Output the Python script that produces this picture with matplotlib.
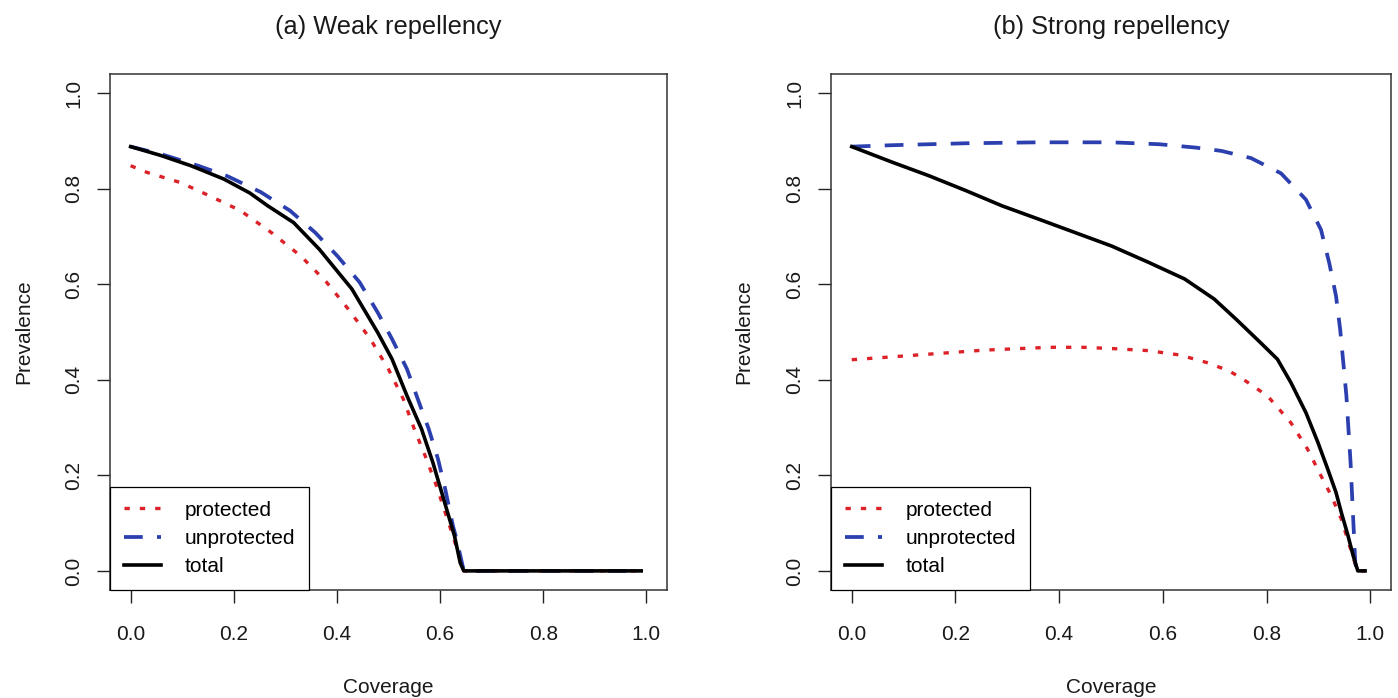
import matplotlib
matplotlib.use('Agg')

import numpy as np
from matplotlib import pyplot as plt

plt.rcParams['font.family'] = ['Liberation Sans', 'DejaVu Sans']

# (a) weak repellency
weak_prot_x = [0.0, 0.032, 0.096, 0.153, 0.213, 0.273, 0.330, 0.380, 0.422, 0.465, 0.500,
               0.529, 0.550, 0.571, 0.593, 0.610, 0.625, 0.635, 0.646, 0.99]
weak_prot_y = [0.848, 0.834, 0.813, 0.785, 0.754, 0.708, 0.659, 0.604, 0.548, 0.485, 0.422,
               0.359, 0.297, 0.241, 0.178, 0.122, 0.073, 0.038, 0.0, 0.0]
weak_unprot_x = [0.0, 0.060, 0.131, 0.188, 0.252, 0.309, 0.358, 0.401, 0.444, 0.479, 0.507,
                 0.536, 0.557, 0.578, 0.596, 0.610, 0.625, 0.632, 0.646, 0.99]
weak_unprot_y = [0.888, 0.872, 0.848, 0.826, 0.793, 0.754, 0.708, 0.659, 0.604, 0.541, 0.485,
                 0.422, 0.359, 0.297, 0.234, 0.171, 0.094, 0.066, 0.0, 0.0]
weak_total_x = [0.0, 0.057, 0.117, 0.181, 0.231, 0.266, 0.316, 0.366, 0.429, 0.479, 0.507,
                0.536, 0.564, 0.586, 0.607, 0.628, 0.639, 0.646, 0.99]
weak_total_y = [0.888, 0.870, 0.848, 0.820, 0.791, 0.764, 0.729, 0.673, 0.590, 0.499, 0.443,
                0.366, 0.297, 0.227, 0.150, 0.073, 0.017, 0.0, 0.0]

# (b) strong repellency
strong_prot_x = [0.0, 0.065, 0.128, 0.192, 0.255, 0.318, 0.382, 0.446, 0.508, 0.572, 0.632,
                 0.685, 0.727, 0.755, 0.802, 0.847, 0.879, 0.905, 0.925, 0.944, 0.960, 0.970,
                 0.976, 0.99]
strong_prot_y = [0.442, 0.447, 0.452, 0.457, 0.462, 0.465, 0.468, 0.468, 0.465, 0.461, 0.452,
                 0.436, 0.419, 0.401, 0.366, 0.310, 0.255, 0.199, 0.157, 0.109, 0.053, 0.018,
                 0.0, 0.0]
strong_unprot_x = [0.0, 0.079, 0.220, 0.361, 0.501, 0.593, 0.663, 0.713, 0.770, 0.828, 0.876,
                   0.905, 0.921, 0.934, 0.942, 0.948, 0.954, 0.958, 0.962, 0.965, 0.968, 0.971,
                   0.974, 0.99]
strong_unprot_y = [0.888, 0.891, 0.895, 0.897, 0.897, 0.893, 0.886, 0.879, 0.864, 0.832, 0.777,
                   0.714, 0.644, 0.575, 0.505, 0.436, 0.366, 0.296, 0.227, 0.157, 0.088, 0.018,
                   0.0, 0.0]
strong_total_x = [0.0, 0.079, 0.149, 0.220, 0.290, 0.361, 0.431, 0.501, 0.572, 0.642, 0.699,
                  0.741, 0.789, 0.821, 0.847, 0.876, 0.899, 0.918, 0.934, 0.944, 0.957, 0.967,
                  0.976, 0.99]
strong_total_y = [0.888, 0.855, 0.827, 0.796, 0.764, 0.736, 0.708, 0.680, 0.646, 0.611, 0.569,
                  0.527, 0.477, 0.443, 0.394, 0.331, 0.269, 0.213, 0.164, 0.123, 0.074, 0.032,
                  0.0, 0.0]

titles = ['(a) Weak repellency', '(b) Strong repellency']
labels = ['protected', 'unprotected', 'total']
ticks = [0.0, 0.2, 0.4, 0.6, 0.8, 1.0]
tick_labels = ['0.0', '0.2', '0.4', '0.6', '0.8', '1.0']

red = '#dc2228'
blue = '#2b3fae'
fs = 15

fig = plt.figure(figsize=(13.98, 6.98), dpi=100)
ax1 = fig.add_axes([110/1398, 108/698, 557/1398, 516/698])
ax2 = fig.add_axes([831/1398, 108/698, 560/1398, 516/698])

panels = [
    (ax1, weak_prot_x, weak_prot_y, weak_unprot_x, weak_unprot_y, weak_total_x, weak_total_y),
    (ax2, strong_prot_x, strong_prot_y, strong_unprot_x, strong_unprot_y, strong_total_x, strong_total_y),
]

for i, (ax, px, py, ux, uy, tx, ty) in enumerate(panels):
    ax.plot(px, py, color=red, lw=2.4, dashes=(1.6, 3.0), dash_capstyle='butt', label=labels[0])
    ax.plot(ux, uy, color=blue, lw=2.7, dashes=(5, 3.8), dash_capstyle='butt', label=labels[1])
    ax.plot(tx, ty, color='black', lw=2.6, label=labels[2])

    ax.set_xlim(-0.04, 1.04)
    ax.set_ylim(-0.04, 1.04)
    ax.set_xticks(ticks)
    ax.set_xticklabels(tick_labels)
    ax.set_yticks(ticks)
    ax.set_yticklabels(tick_labels)
    ax.tick_params(axis='both', direction='out', length=9.5, width=1.0, labelsize=fs,
                   color='#222222', labelcolor='#1a1a1a')
    ax.tick_params(axis='x', pad=16)
    ax.tick_params(axis='y', pad=10, labelrotation=90)
    for lab in ax.get_yticklabels():
        lab.set_va('center')
    for s in ax.spines.values():
        s.set_color('#333333')
        s.set_linewidth(1.1)

    # title offset (axes.titlepad, 6pt) is added on top of y
    ax.set_title(titles[i], fontsize=18.3, y=1 + 39/516, va='center', color='#1a1a1a')
    ax.set_xlabel('Coverage', fontsize=fs, color='#1a1a1a')
    ax.xaxis.set_label_coords(0.5, -0.188)
    ax.xaxis.label.set_va('center')
    ax.set_ylabel('Prevalence', fontsize=fs, color='#1a1a1a')
    ax.yaxis.set_label_coords(-0.155, 0.5)
    ax.yaxis.label.set_va('center')

    leg = ax.legend(loc='lower left', bbox_to_anchor=(0, 0), borderaxespad=0,
                    fontsize=fs, frameon=True, fancybox=False, framealpha=1,
                    edgecolor='black', handlelength=1.8, handletextpad=1.15,
                    borderpad=0.65, labelspacing=0.45)
    leg.get_frame().set_linewidth(0.9)

plt.savefig('out.png', dpi=100)
